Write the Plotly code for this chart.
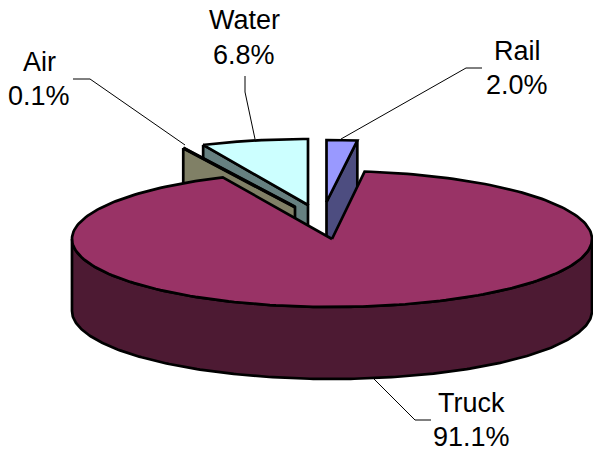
import numpy as np
import plotly.graph_objects as go

# Modal shares, in clockwise order from twelve o'clock
categories = ["Rail", "Truck", "Air", "Water"]
shares = [2.0, 91.1, 0.1, 6.8]

top_colors = {"Rail": "#9999FF", "Truck": "#993366", "Air": "#FFFFCC", "Water": "#CCFFFF"}
side_colors = {"Rail": "#4D4D80", "Truck": "#4D1A33", "Air": "#808066", "Water": "#668080"}

# Projection of the pie onto the page (pixel-like plot units)
DEPTH = 72
apex = {"Rail": (326.5, 202), "Truck": (332, 239), "Air": (295, 207), "Water": (308, 205)}
rx = {"Rail": 246, "Truck": 260, "Air": 266, "Water": 253}
ry = {"Rail": 62, "Truck": 68, "Air": 65, "Water": 66}
label_pos = {"Rail": (517, 51, 85), "Truck": (471, 403, 437), "Air": (39, 62, 96), "Water": (244, 20, 55)}
leaders = {
    "Rail": ([482, 466, 341], [68, 68, 139]),
    "Truck": ([431, 415, 373], [420, 420, 378]),
    "Air": ([73, 90, 185], [79, 79, 145]),
    "Water": ([245, 245, 255], [76, 92, 139]),
}

total = sum(shares)
ends = np.cumsum(shares) / total * 360
spans = {c: (e - s / total * 360, e) for c, s, e in zip(categories, shares, ends)}


def rim(name, a0, a1, drop=0.0):
    """Points of a slice's outer edge; angles run clockwise from twelve o'clock."""
    cx, cy = apex[name]
    t = np.radians(np.linspace(a0, a1, 240))
    return cx + rx[name] * np.sin(t), cy - ry[name] * np.cos(t) + drop


def polygon(xs, ys, fill, width=2.7):
    return go.Scatter(x=list(xs), y=list(ys), mode="lines", fill="toself", fillcolor=fill,
                      line=dict(color="black", width=width), hoverinfo="skip", showlegend=False)


def cut_face(name):
    """Left-hand radial wall of a slice, seen from the front."""
    cx, cy = apex[name]
    a0 = spans[name][0]
    x0, y0 = rim(name, a0, a0)
    return polygon([x0[0], cx, cx, x0[0], x0[0]],
                   [y0[0], cy, cy + DEPTH, y0[0] + DEPTH, y0[0]], side_colors[name])


def top_face(name, width=2.7):
    cx, cy = apex[name]
    x, y = rim(name, *spans[name])
    return polygon([cx, *x, cx], [cy, *y, cy], top_colors[name], width)


fig = go.Figure()

# Rail: its wall runs from the outer corner down to the apex
end_x, end_y = rim("Rail", spans["Rail"][1], spans["Rail"][1])
cx, cy = apex["Rail"]
fig.add_trace(polygon([end_x[0], cx, cx, end_x[0], end_x[0]],
                      [end_y[0], cy, cy + DEPTH, end_y[0] + DEPTH, end_y[0]], side_colors["Rail"]))
fig.add_trace(top_face("Rail"))

# Water, then the thin Air slice in front of it
fig.add_trace(cut_face("Water"))
fig.add_trace(top_face("Water"))
fig.add_trace(cut_face("Air"))
fig.add_trace(top_face("Air", 3.5))

# Truck: front wall, then the top face over everything behind it
xs, ys = rim("Truck", 90, 270)
xb, yb = rim("Truck", 270, 90, DEPTH)
fig.add_trace(polygon([*xs, *xb, xs[0]], [*ys, *yb, ys[0]], side_colors["Truck"]))
fig.add_trace(top_face("Truck"))

# Leader lines from the labels to their slices
for name in categories:
    lx, ly = leaders[name]
    fig.add_trace(go.Scatter(x=lx, y=ly, mode="lines", line=dict(color="black", width=1),
                             hoverinfo="skip", showlegend=False))

# Two-line labels: category name above its share
for name, share in zip(categories, shares):
    x, y1, y2 = label_pos[name]
    for text, y in ((name, y1), (f"{share:.1f}%", y2)):
        fig.add_annotation(x=x, y=y, text=text, showarrow=False, xanchor="center", yanchor="middle",
                           font=dict(family="Liberation Sans", size=27, color="black"))

fig.update_layout(
    width=593, height=452, autosize=False,
    margin=dict(l=0, r=0, t=0, b=0),
    paper_bgcolor="white", plot_bgcolor="white",
    xaxis=dict(range=[0, 593], visible=False, fixedrange=True),
    yaxis=dict(range=[452, 0], visible=False, fixedrange=True),
)

fig.write_html("out.html", config={"displayModeBar": False})
